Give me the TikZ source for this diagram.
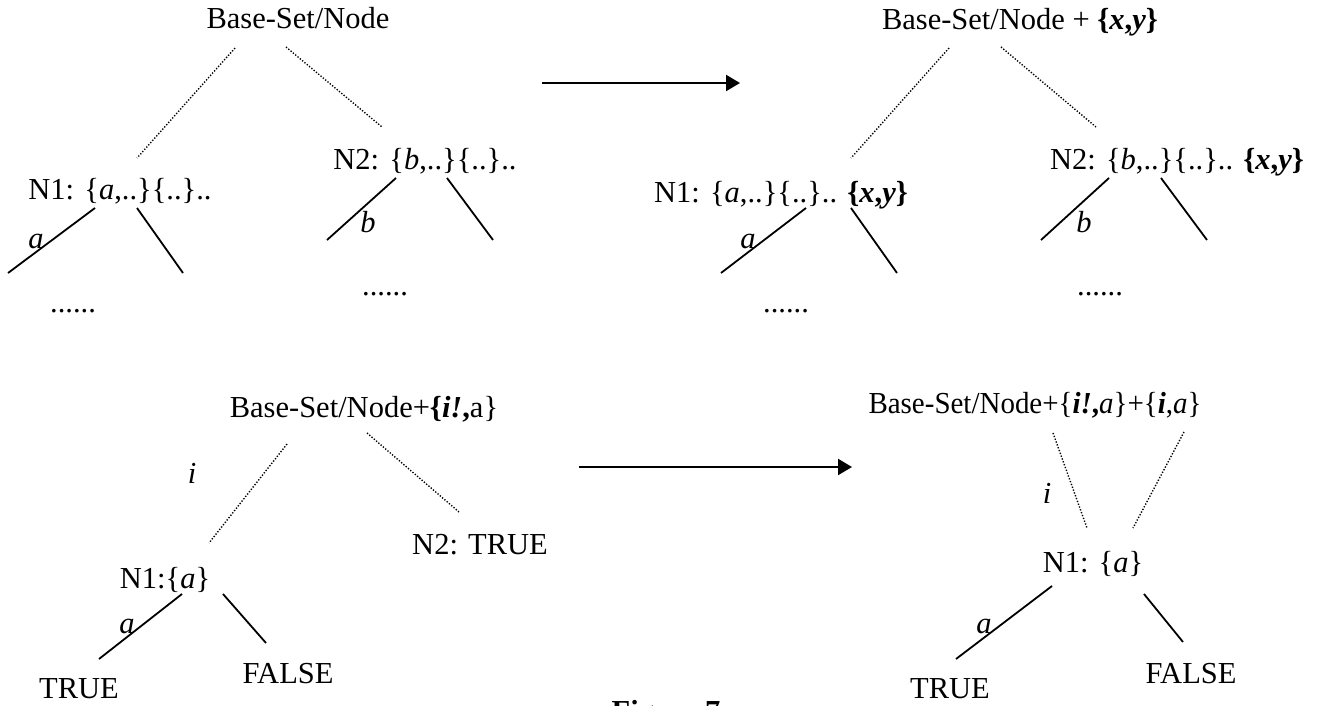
\documentclass[tikz,border=0pt]{standalone}
\usepackage{fontspec}
\setmainfont{Liberation Serif}
\usetikzlibrary{arrows.meta}
\tikzset{
  lbl/.style={anchor=base, inner sep=0pt, font=\fontsize{30.5}{36}\selectfont},
  edge/.style={line width=1.8pt},
  dotedge/.style={line width=1.4pt, dash pattern=on 1.3pt off 1.7pt},
  bigarrow/.style={line width=2.2pt, -{Triangle[length=14pt,width=16pt]}},
}
\newcommand{\xy}{\textbf{\{\textit{x},\textit{y}\}}}
\begin{document}
\begin{tikzpicture}[x=1pt,y=-1pt]
\useasboundingbox (0,0) rectangle (1320,706);
\clip (0,0) rectangle (1320,706);

% ---------- upper left tree ----------
\node[lbl] (tlroot) at (298,29) {Base-Set/Node};
\node[lbl] (tln1) at (120,200) {N1: \{\textit{a},..\}\{..\}..};
\node[lbl] (tln2) at (425,170) {N2: \{\textit{b},..\}\{..\}..};
\node[lbl] (tla) at (36,248) {\textit{a}};
\node[lbl] (tlb) at (368,232) {\textit{b}};
\node[lbl] (tldots1) at (73,312) {......};
\node[lbl] (tldots2) at (385,295) {......};
\coordinate (tlr1) at (235,48);  \coordinate (tlr1e) at (137,158);
\coordinate (tlr2) at (286,47);  \coordinate (tlr2e) at (382,127);
\coordinate (tln1l) at (95,208);  \coordinate (tln1le) at (8,273);
\coordinate (tln1r) at (137,208); \coordinate (tln1re) at (183,273);
\coordinate (tln2l) at (396,178); \coordinate (tln2le) at (327,240);
\coordinate (tln2r) at (447,178); \coordinate (tln2re) at (493,240);
\draw[dotedge] (tlr1) -- (tlr1e);
\draw[dotedge] (tlr2) -- (tlr2e);
\draw[edge] (tln1l) -- (tln1le);
\draw[edge] (tln1r) -- (tln1re);
\draw[edge] (tln2l) -- (tln2le);
\draw[edge] (tln2r) -- (tln2re);

% ---------- upper arrow ----------
\coordinate (ua1) at (542,83); \coordinate (ua2) at (740,83);
\draw[bigarrow] (ua1) -- (ua2);

% ---------- upper right tree ----------
\node[lbl] (trroot) at (1020,30) {Base-Set/Node + \xy};
\node[lbl] (trn1) at (781,202) {N1: \{\textit{a},..\}\{..\}.. \xy};
\node[lbl] (trn2) at (1177,170) {N2: \{\textit{b},..\}\{..\}.. \xy};
\node[lbl] (tra) at (748,248) {\textit{a}};
\node[lbl] (trb) at (1084,232) {\textit{b}};
\node[lbl] (trdots1) at (786,312) {......};
\node[lbl] (trdots2) at (1100,295) {......};
\coordinate (trr1) at (949,48);   \coordinate (trr1e) at (851,158);
\coordinate (trr2) at (1001,47);  \coordinate (trr2e) at (1096,127);
\coordinate (trn1l) at (806,208); \coordinate (trn1le) at (721,273);
\coordinate (trn1r) at (851,208); \coordinate (trn1re) at (897,273);
\coordinate (trn2l) at (1109,178); \coordinate (trn2le) at (1041,240);
\coordinate (trn2r) at (1161,178); \coordinate (trn2re) at (1207,240);
\draw[dotedge] (trr1) -- (trr1e);
\draw[dotedge] (trr2) -- (trr2e);
\draw[edge] (trn1l) -- (trn1le);
\draw[edge] (trn1r) -- (trn1re);
\draw[edge] (trn2l) -- (trn2le);
\draw[edge] (trn2r) -- (trn2re);

% ---------- lower left tree ----------
\node[lbl] (blroot) at (364,417) {Base-Set/Node+\textbf{\{\textit{i!},}a\}};
\node[lbl] (bli) at (192,483) {\textit{i}};
\node[lbl] (bln2) at (480,554) {N2: TRUE};
\node[lbl] (bln1) at (165,588) {N1:\{\textit{a}\}};
\node[lbl] (bla) at (127,633) {\textit{a}};
\node[lbl] (bltrue) at (79,698) {TRUE};
\node[lbl] (blfalse) at (288,683) {FALSE};
\coordinate (blr1) at (287,444);  \coordinate (blr1e) at (209,543);
\coordinate (blr2) at (367,433);  \coordinate (blr2e) at (459,512);
\coordinate (bln1l) at (182,594); \coordinate (bln1le) at (99,659);
\coordinate (bln1r) at (223,594); \coordinate (bln1re) at (266,643);
\draw[dotedge] (blr1) -- (blr1e);
\draw[dotedge] (blr2) -- (blr2e);
\draw[edge] (bln1l) -- (bln1le);
\draw[edge] (bln1r) -- (bln1re);

% ---------- lower arrow ----------
\coordinate (la1) at (579,467); \coordinate (la2) at (852,467);
\draw[bigarrow] (la1) -- (la2);

% ---------- lower right tree ----------
\node[lbl, xscale=0.95] (brroot) at (1035,413)
  {Base-Set/Node+\{\textbf{\textit{i!},}\textit{a}\}+\{\textbf{\textit{i}},\textit{a}\}};
\node[lbl] (bri) at (1047,503) {\textit{i}};
\node[lbl] (brn1) at (1093,572) {N1: \{\textit{a}\}};
\node[lbl] (bra) at (984,633) {\textit{a}};
\node[lbl] (brtrue) at (950,698) {TRUE};
\node[lbl] (brfalse) at (1191,683) {FALSE};
\coordinate (brr1) at (1053,433);  \coordinate (brr1e) at (1087,528);
\coordinate (brr2) at (1184,432);  \coordinate (brr2e) at (1133,528);
\coordinate (brn1l) at (1052,586); \coordinate (brn1le) at (956,659);
\coordinate (brn1r) at (1144,594); \coordinate (brn1re) at (1183,642);
\draw[dotedge] (brr1) -- (brr1e);
\draw[dotedge] (brr2) -- (brr2e);
\draw[edge] (brn1l) -- (brn1le);
\draw[edge] (brn1r) -- (brn1re);

% ---------- caption ----------
\node[lbl, font=\fontsize{30.5}{36}\selectfont\bfseries] (caption) at (666,721) {Figure 7};
\end{tikzpicture}
\end{document}
